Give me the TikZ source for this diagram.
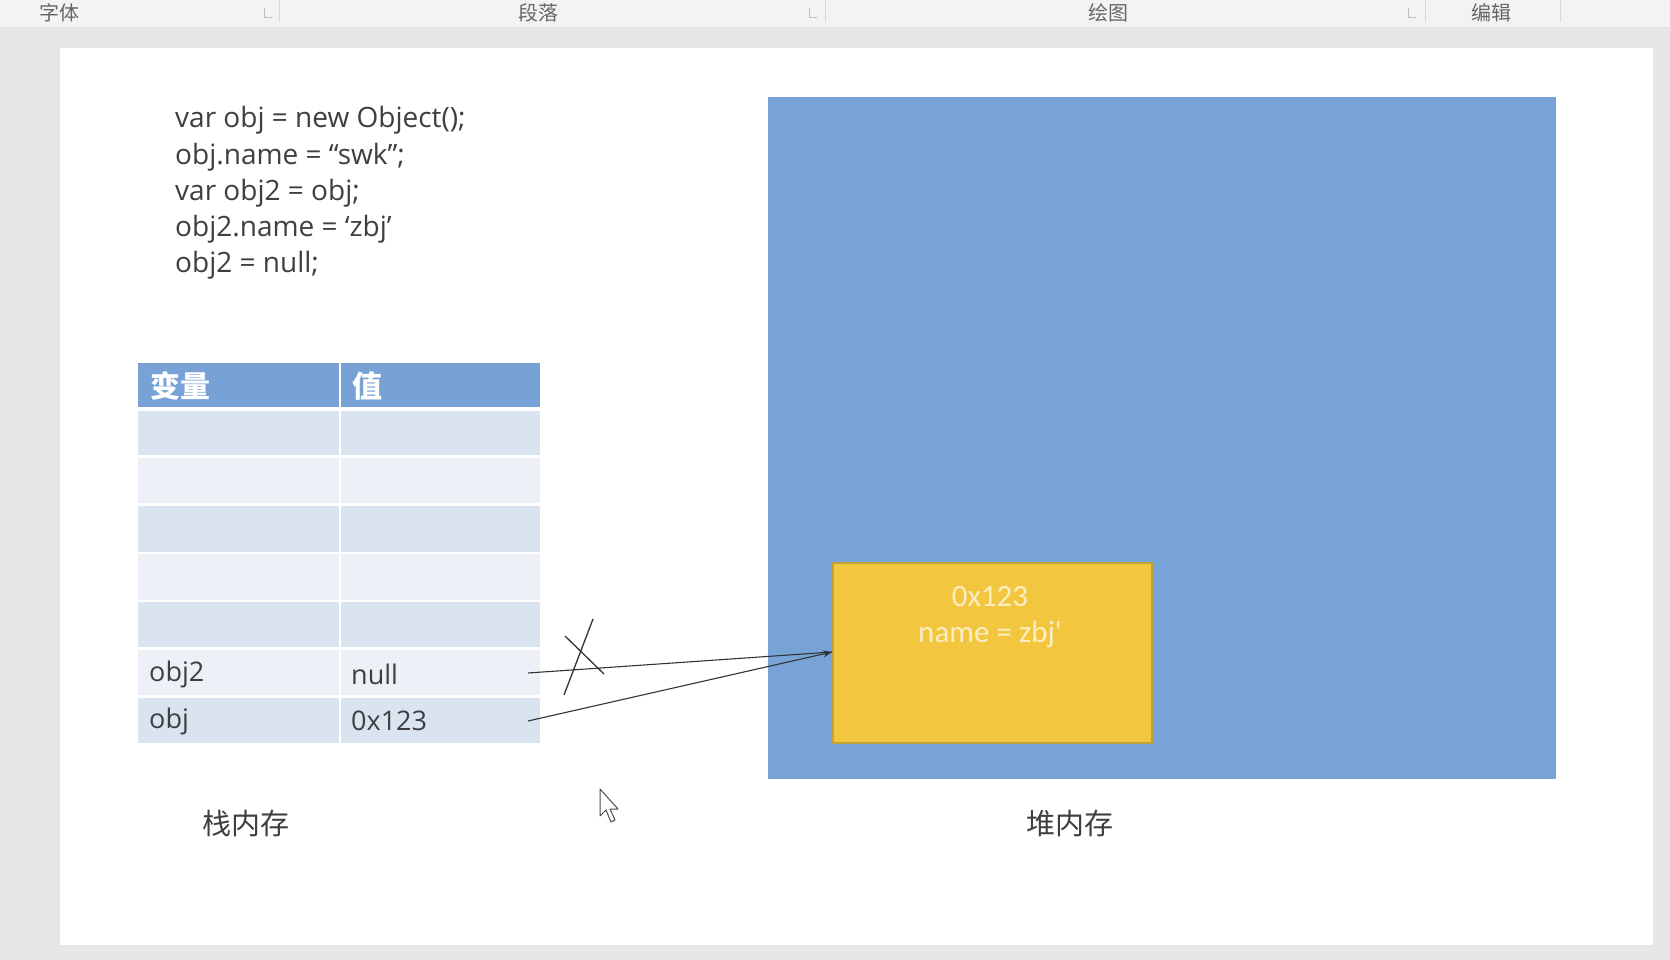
\documentclass[tikz,border=0pt]{standalone}
\usepackage{fontspec}
\setmainfont{Open Sans}
\newfontfamily\cjk{Noto Sans CJK SC}
\newfontfamily\narrowfont{Carlito}
\usetikzlibrary{arrows.meta}
\definecolor{heapblue}{HTML}{77A3D6}
\definecolor{hdrblue}{HTML}{78A2D6}
\definecolor{rowdark}{HTML}{DAE3F0}
\definecolor{rowlight}{HTML}{EDF1F7}
\definecolor{objyellow}{HTML}{F2C73F}
\definecolor{objborder}{HTML}{C2A33A}
\definecolor{objtext}{HTML}{FBEEC2}
\definecolor{txtgray}{HTML}{3F3F3F}
\definecolor{outergray}{HTML}{E7E7E8}
\definecolor{barbg}{HTML}{F3F3F3}
\tikzset{
  codeline/.style={anchor=west, inner sep=0pt, font=\fontsize{28}{30}\selectfont, text=txtgray},
  celltext/.style={anchor=west, inner sep=0pt, font=\fontsize{27}{30}\selectfont, text=txtgray},
  hdrtext/.style={anchor=west, inner sep=0pt, font=\cjk\bfseries\fontsize{30}{32}\selectfont, text=white},
  caption/.style={inner sep=0pt, font=\cjk\fontsize{29}{32}\selectfont, text=txtgray},
  bartext/.style={inner sep=0pt, font=\cjk\fontsize{20}{22}\selectfont, text=black!60},
  barmark/.style={draw=black!25, line width=0.8pt},
  objtxt/.style={inner sep=0pt, font=\narrowfont\fontsize{31}{34}\selectfont, text=objtext},
  pointer/.style={draw=black!80, line width=1.1pt},
  crossline/.style={draw=black!80, line width=1.3pt}
}
\begin{document}
\begin{tikzpicture}[x=1pt,y=-1pt]
\useasboundingbox (0,0) rectangle (1670,960);
% screenshot background
\fill[outergray] (0,0) rectangle (1670,960);
\fill[barbg] (0,0) rectangle (1670,27);
\draw[black!12] (0,27) -- (1670,27);
\foreach \xx in {279,825,1425,1560} {\draw[black!15] (\xx,0) -- (\xx,22);}
\foreach \xx in {264,809,1408} {\draw[barmark] (\xx,8) -- (\xx,17) -- (\xx+8,17);}
\node[bartext] (bar1) at (59,13) {字体};
\node[bartext] (bar2) at (538,13) {段落};
\node[bartext] (bar3) at (1108,13) {绘图};
\node[bartext] (bar4) at (1491,13) {编辑};
% page
\fill[black!10] (58,46) rectangle (1655,947);
\fill[white] (60,48) rectangle (1653,945);
% code
\node[codeline] (c1) at (175,120) {var obj = new Object();};
\node[codeline] (c2) at (175,157) {obj.name = ``swk'';};
\node[codeline] (c3) at (175,193) {var obj2 = obj;};
\node[codeline] (c4) at (175,229) {obj2.name = `zbj'};
\node[codeline] (c5) at (175,265) {obj2 = null;};
% stack table
\fill[hdrblue] (138,363) rectangle (540,407);
\draw[white, line width=2pt] (340,363) -- (340,407);
\foreach \ya/\yb/\cc in {411/455/rowdark,458/503/rowlight,506/552/rowdark,554/600/rowlight,602/647/rowdark,650/695/rowlight,698/743/rowdark} {
  \fill[\cc] (138,\ya) rectangle (540,\yb);
  \draw[white, line width=2.5pt] (340,\ya) -- (340,\yb);
}
\node[hdrtext] (h1) at (150,386) {变量};
\node[hdrtext] (h2) at (352,386) {值};
\node[celltext] (v2) at (149,674) {obj2};
\node[celltext] (n2) at (351,674) {null};
\node[celltext] (v1) at (149,721) {obj};
\node[celltext] (n1) at (351,721) {0x123};
\coordinate (s2) at (528,673);
\coordinate (s1) at (528,721);
% heap
\fill[heapblue] (768,97) rectangle (1556,779);
\node[draw=objborder, line width=1.5pt, fill=objyellow, minimum width=319pt, minimum height=180pt, anchor=north west, inner sep=0pt] (obj) at (832,562) {};
\node[objtxt] (o1) at (990,597) {0x123};
\node[objtxt] (o2) at (990,634) {name = zbj'};
\coordinate (tip) at (832,652);
% pointers
\draw[pointer] (s2) -- (tip);
\draw[pointer, -{Stealth[length=9pt,width=7pt]}] (s1) -- (tip);
% cross on obj2 pointer
\coordinate (xa1) at (593,619);
\coordinate (xa2) at (564,695);
\coordinate (xb1) at (565,636);
\coordinate (xb2) at (604,674);
\draw[crossline] (xa1) -- (xa2);
\draw[crossline] (xb1) -- (xb2);
% captions
\node[caption] (stk) at (246,824) {栈内存};
\node[caption] (hp) at (1070,824) {堆内存};
% mouse cursor
\draw[black!70, fill=white, line width=1pt, line join=round]
  (600,789) -- (600,816) -- (606,810) -- (611,822) -- (615,820) -- (610,809) -- (618,809) -- cycle;
\end{tikzpicture}
\end{document}
